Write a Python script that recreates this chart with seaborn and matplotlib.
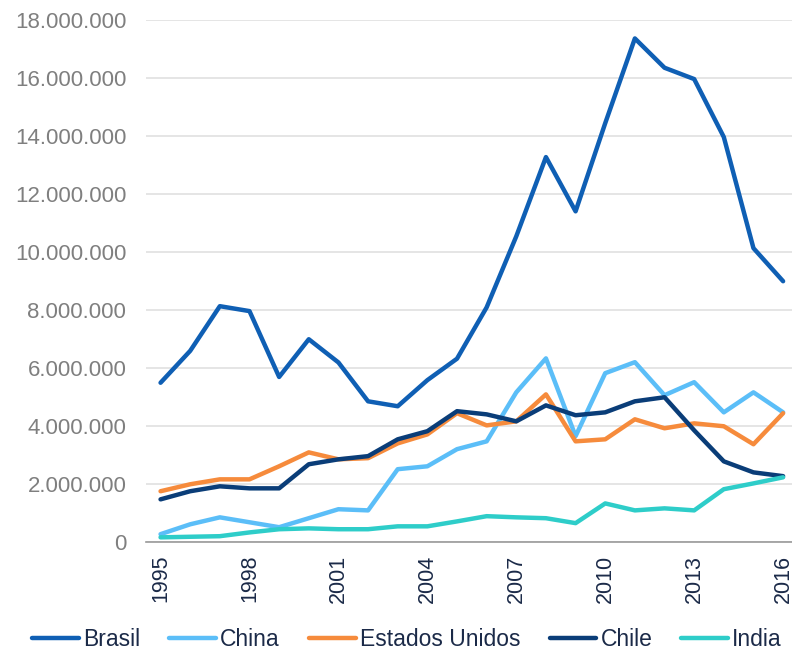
import numpy as np
import pandas as pd
import seaborn as sns
import matplotlib.pyplot as plt
from matplotlib.ticker import FuncFormatter, FixedLocator

years = list(range(1995, 2017))

brasil = [5.50, 6.60, 8.14, 7.97, 5.70, 7.00, 6.20, 4.86, 4.69, 5.59, 6.33,
          8.10, 10.55, 13.28, 11.41, 14.45, 17.37, 16.36, 15.97, 13.97, 10.14, 9.00]
china = [0.28, 0.62, 0.86, 0.69, 0.52, 0.83, 1.14, 1.10, 2.52, 2.62, 3.21,
         3.48, 5.17, 6.34, 3.66, 5.83, 6.21, 5.07, 5.52, 4.48, 5.17, 4.48]
estados_unidos = [1.76, 2.00, 2.17, 2.17, 2.62, 3.10, 2.86, 2.90, 3.41, 3.72, 4.45,
                  4.03, 4.17, 5.10, 3.48, 3.55, 4.24, 3.93, 4.10, 4.00, 3.38, 4.45]
chile = [1.48, 1.76, 1.93, 1.86, 1.86, 2.69, 2.86, 2.97, 3.55, 3.83, 4.52,
         4.41, 4.17, 4.72, 4.38, 4.48, 4.86, 5.00, 3.86, 2.79, 2.41, 2.28]
india = [0.17, 0.19, 0.21, 0.34, 0.45, 0.48, 0.45, 0.45, 0.55, 0.55, 0.72,
         0.90, 0.86, 0.83, 0.66, 1.34, 1.10, 1.17, 1.10, 1.83, 2.03, 2.24]

series = {"Brasil": brasil, "China": china, "Estados Unidos": estados_unidos,
          "Chile": chile, "India": india}
colors = ["#0f5fb4", "#5bbef8", "#f68b3c", "#0a3d78", "#2ecdc9"]

rows = []
for name, vals in series.items():
    for i, (yr, v) in enumerate(zip(years, vals)):
        rows.append({"idx": i, "year": yr, "pais": name, "valor": v * 1e6})
df = pd.DataFrame(rows)

sns.set_style("white")
plt.rcParams['font.family'] = ['Liberation Sans', 'DejaVu Sans']

fig = plt.figure(figsize=(7.92, 6.51), dpi=100)
ax = fig.add_axes([0.184, 0.167, 0.816, 0.802])

sns.lineplot(data=df, x="idx", y="valor", hue="pais", hue_order=list(series.keys()),
             palette=colors, linewidth=3.2, ax=ax, legend=False)

ax.set_ylim(0, 18e6)
ax.set_xlim(-0.5, 21.3)
ax.set_yticks(np.arange(0, 18e6 + 1, 2e6))
ax.yaxis.set_major_formatter(FuncFormatter(lambda v, p: f"{int(v):,}".replace(",", ".")))
ax.grid(axis="y", color="#e3e3e3", linewidth=1.3)
ax.set_axisbelow(True)

label_idx = list(range(0, 22, 3))
ax.set_xticks(label_idx)
ax.set_xticklabels([str(years[i]) for i in label_idx], rotation=90)
ax.xaxis.set_minor_locator(FixedLocator([i - 0.5 for i in label_idx]))
ax.tick_params(axis="x", which="major", length=0, pad=9, labelsize=15.5, labelcolor="#1b2a48")
ax.tick_params(axis="x", which="minor", length=6, width=1.2, color="#9a9a9a", direction="out")
ax.tick_params(axis="y", length=0, labelsize=16, labelcolor="#7f7f7f", pad=14)

for s in ["left", "right", "top"]:
    ax.spines[s].set_visible(False)
ax.spines["bottom"].set_color("#9a9a9a")
ax.spines["bottom"].set_linewidth(1.2)
ax.set_xlabel("")
ax.set_ylabel("")

handles = [plt.Line2D([0], [0], color=c, lw=3.2) for c in colors]
fig.legend(handles, list(series.keys()), loc="lower center", ncol=5, frameon=False,
           bbox_to_anchor=(0.514, -0.032), fontsize=16.5, handlelength=2.05,
           handletextpad=0.17, columnspacing=1.27, labelcolor="#1b2a48")

fig.savefig("out.png", dpi=100)
